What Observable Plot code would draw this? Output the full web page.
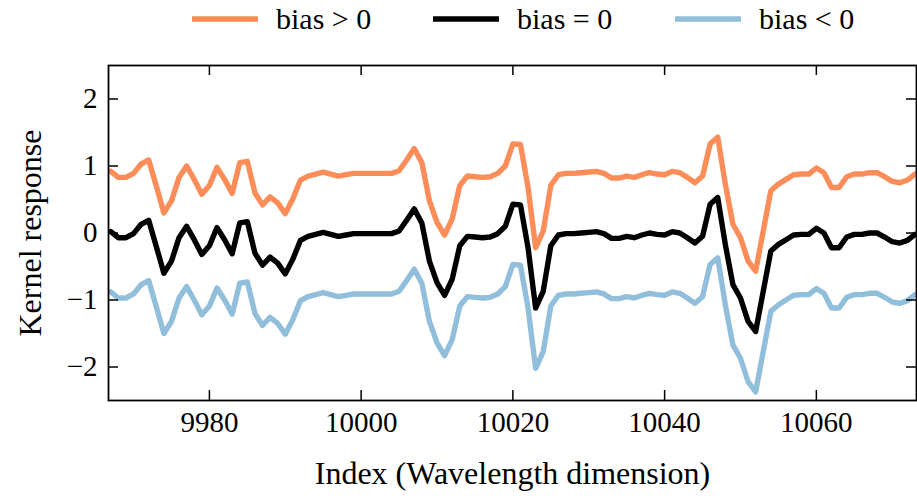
<!DOCTYPE html>
<html>
<head>
<meta charset="utf-8">
<script src="https://cdn.jsdelivr.net/npm/d3@7"></script>
<script src="https://cdn.jsdelivr.net/npm/@observablehq/plot@0.6"></script>
<style>
  html, body { margin: 0; padding: 0; background: #fff; }
  #wrap { position: relative; width: 917px; height: 499px; overflow: hidden; font-family: "Liberation Serif", "DejaVu Serif", serif; }
  #chart { position: absolute; left: 0; top: 0; }
  .leg { position: absolute; top: 0; height: 38px; display: flex; align-items: center; font-size: 30px; color: #000; white-space: nowrap; }
  .leg svg { margin-right: 18px; }
</style>
</head>
<body>
<div id="wrap">
  <div id="chart"></div>
</div>
<script>
// ---- data ----
const startIndex = 9967;
const endIndex = 10073;

const biasZero = [
  0.02,-0.07,-0.07,-0.01,0.13,0.19,-0.2,-0.6,-0.42,-0.07,
  0.1,-0.1,-0.32,-0.19,0.08,-0.1,-0.31,0.15,0.17,-0.3,
  -0.48,-0.36,-0.45,-0.61,-0.39,-0.11,-0.05,-0.02,0.01,-0.02,
  -0.05,-0.03,-0.01,-0.01,-0.01,-0.01,-0.01,-0.01,0.03,0.19,
  0.36,0.15,-0.42,-0.74,-0.93,-0.69,-0.19,-0.05,-0.06,-0.07,
  -0.06,-0.01,0.1,0.43,0.42,-0.22,-1.12,-0.87,-0.19,-0.03,
  -0.01,-0.01,0.0,0.01,0.02,-0.01,-0.08,-0.08,-0.05,-0.07,
  -0.03,0.0,-0.02,-0.03,0.02,0.0,-0.07,-0.15,-0.05,0.43,
  0.53,-0.17,-0.77,-0.97,-1.32,-1.47,-0.87,-0.27,-0.17,-0.1,
  -0.03,-0.02,-0.02,0.07,0.0,-0.22,-0.22,-0.06,-0.02,-0.02,
  0.0,0.0,-0.06,-0.13,-0.15,-0.11,-0.02
];

const biasPositive = [
  0.92,0.83,0.83,0.89,1.03,1.09,0.70,0.30,0.48,0.83,
  1.00,0.80,0.58,0.71,0.98,0.80,0.59,1.05,1.07,0.60,
  0.42,0.54,0.45,0.29,0.51,0.79,0.85,0.88,0.91,0.88,
  0.85,0.87,0.89,0.89,0.89,0.89,0.89,0.89,0.93,1.09,
  1.26,1.05,0.48,0.16,-0.03,0.21,0.71,0.85,0.84,0.83,
  0.84,0.89,1.00,1.33,1.32,0.68,-0.22,0.03,0.71,0.87,
  0.89,0.89,0.90,0.91,0.92,0.89,0.82,0.82,0.85,0.83,
  0.87,0.90,0.88,0.87,0.92,0.90,0.83,0.75,0.85,1.33,
  1.43,0.73,0.13,-0.07,-0.42,-0.57,0.03,0.63,0.73,0.80,
  0.87,0.88,0.88,0.97,0.90,0.68,0.68,0.84,0.88,0.88,
  0.90,0.90,0.84,0.77,0.75,0.79,0.88
];

const biasNegative = [
  -0.88,-0.97,-0.97,-0.91,-0.77,-0.71,-1.10,-1.50,-1.32,-0.97,
  -0.80,-1.00,-1.22,-1.09,-0.82,-1.00,-1.21,-0.75,-0.73,-1.20,
  -1.38,-1.26,-1.35,-1.51,-1.29,-1.01,-0.95,-0.92,-0.89,-0.92,
  -0.95,-0.93,-0.91,-0.91,-0.91,-0.91,-0.91,-0.91,-0.87,-0.71,
  -0.54,-0.75,-1.32,-1.64,-1.83,-1.59,-1.09,-0.95,-0.96,-0.97,
  -0.96,-0.91,-0.80,-0.47,-0.48,-1.12,-2.02,-1.77,-1.09,-0.93,
  -0.91,-0.91,-0.90,-0.89,-0.88,-0.91,-0.98,-0.98,-0.95,-0.97,
  -0.93,-0.90,-0.92,-0.93,-0.88,-0.90,-0.97,-1.05,-0.95,-0.47,
  -0.37,-1.07,-1.67,-1.87,-2.22,-2.37,-1.77,-1.17,-1.07,-1.00,
  -0.93,-0.92,-0.92,-0.83,-0.90,-1.12,-1.12,-0.96,-0.92,-0.92,
  -0.90,-0.90,-0.96,-1.03,-1.05,-1.01,-0.92
];

const seriesNames = ["bias > 0", "bias = 0", "bias < 0"];
const seriesColors = ["#fc8d59", "#000000", "#91bfdb"];
const seriesValues = [biasPositive, biasZero, biasNegative];

const xTicks = [9980, 10000, 10020, 10040, 10060];
const yTicks = [-2, -1, 0, 1, 2];
const xDomain = [9966.7, 10073.2];
const yDomain = [-2.5, 2.5];
const xLabel = "Index (Wavelength dimension)";
const yLabel = "Kernel response";

// ---- build table ----
const indices = d3.range(startIndex, endIndex + 1);
const rows = [];
seriesNames.forEach((name, s) => {
  seriesValues[s].forEach((v, i) => rows.push({series: name, index: indices[i], value: v}));
});

const W = 917, H = 499;
const mt = 65, mb = 99, ml = 108, mr = 1;
const innerW = W - ml - mr, innerH = H - mt - mb;
const tickLen = 10;
const serif = "Liberation Serif";
const fmtY = d => (d < 0 ? "\u2212" + Math.abs(d) : String(d));

const chart = Plot.plot({
  width: W,
  height: H,
  marginTop: mt,
  marginBottom: mb,
  marginLeft: ml,
  marginRight: mr,
  style: {fontFamily: serif, fontSize: "29px", color: "#000", background: "#fff"},
  x: {domain: xDomain, axis: null},
  y: {domain: yDomain, axis: null},
  color: {domain: seriesNames, range: seriesColors},
  marks: [
    Plot.line(rows, {x: "index", y: "value", z: "series", stroke: "series", strokeWidth: 5.4, clip: true}),
    // inward ticks on all four sides
    Plot.tickX(xTicks, {x: d => d, insetTop: innerH - tickLen, stroke: "#000", strokeWidth: 1.5}),
    Plot.tickX(xTicks, {x: d => d, insetBottom: innerH - tickLen, stroke: "#000", strokeWidth: 1.5}),
    Plot.tickY(yTicks, {y: d => d, insetRight: innerW - tickLen, stroke: "#000", strokeWidth: 1.5}),
    Plot.tickY(yTicks, {y: d => d, insetLeft: innerW - tickLen, stroke: "#000", strokeWidth: 1.5}),
    // tick labels
    Plot.text(xTicks, {x: d => d, frameAnchor: "bottom", dy: 11, lineAnchor: "top", textAnchor: "middle", text: d => String(d), fontSize: 29, fontFamily: serif, fill: "#000"}),
    Plot.text(yTicks, {y: d => d, frameAnchor: "left", dx: -11, lineAnchor: "middle", textAnchor: "end", text: fmtY, fontSize: 29, fontFamily: serif, fill: "#000"}),
    Plot.frame({stroke: "#000", strokeWidth: 1.8}),
    Plot.text([xLabel], {frameAnchor: "bottom", dy: 73, fontSize: 32, fontFamily: serif, lineAnchor: "middle", textAnchor: "middle", fill: "#000"}),
    Plot.text([yLabel], {frameAnchor: "left", dx: -78, rotate: -90, fontSize: 32, fontFamily: serif, lineAnchor: "middle", textAnchor: "middle", fill: "#000"})
  ]
});
document.getElementById("chart").appendChild(chart);

// ---- legend ----
const legendLefts = [192, 433, 675];
const wrap = document.getElementById("wrap");
seriesNames.forEach((name, i) => {
  const item = document.createElement("div");
  item.className = "leg";
  item.style.left = legendLefts[i] + "px";
  item.innerHTML = `<svg width="66" height="10"><line x1="0" y1="5" x2="66" y2="5" stroke="${seriesColors[i]}" stroke-width="5.5"/></svg><span></span>`;
  item.querySelector("span").textContent = name;
  wrap.appendChild(item);
});
</script>
</body>
</html>
